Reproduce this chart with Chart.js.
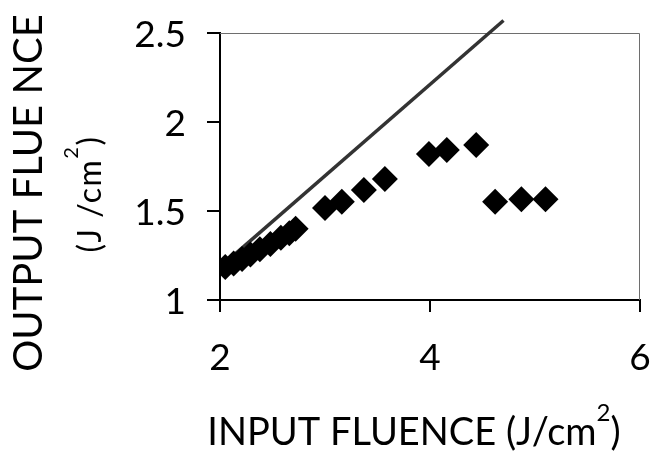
<!DOCTYPE html>
<html lang="en">
<head>
  <meta charset="UTF-8">
  <title>Output vs input fluence</title>
  <style>
    html, body { margin: 0; padding: 0; background: #fff; }
    #chartBox { width: 652px; height: 454px; }
  </style>
</head>
<body>
<div id="chartBox"><canvas id="fluenceChart"></canvas></div>

<script src="https://cdn.jsdelivr.net/npm/chart.js"></script>
<script>
  // measured points (J/cm2)
  const inputFluence  = [2.05, 2.13, 2.21, 2.29, 2.38, 2.48, 2.58, 2.66, 2.72, 3.00, 3.16, 3.37, 3.57, 3.99, 4.16, 4.44, 4.62, 4.87, 5.10];
  const outputFluence = [1.185, 1.205, 1.23, 1.255, 1.285, 1.315, 1.35, 1.375, 1.40, 1.517, 1.552, 1.618, 1.68, 1.82, 1.843, 1.871, 1.552, 1.566, 1.566];

  // linear transmission line
  const lineX = [2.05, 4.70];
  const lineY = [1.21, 2.57];

  const xTicks = [2, 4, 6];
  const yTicks = [1, 1.5, 2, 2.5];

  const FONT = 'Lato, "Open Sans", sans-serif';

  // text with a raised "2", centred on 0
  function drawSupText(ctx, before, sup, after, size, raise, spacing) {
    const supSize = Math.round(size * 0.62);
    ctx.letterSpacing = (spacing || 0) + 'px';
    ctx.font = size + 'px ' + FONT;
    const w1 = ctx.measureText(before).width;
    const w3 = ctx.measureText(after).width;
    ctx.font = supSize + 'px ' + FONT;
    const w2 = ctx.measureText(sup).width;
    let x = -(w1 + w2 + w3) / 2;
    ctx.textAlign = 'left';
    ctx.font = size + 'px ' + FONT;
    ctx.fillText(before, x, 0);
    x += w1;
    ctx.font = supSize + 'px ' + FONT;
    ctx.fillText(sup, x, -size * raise);
    x += w2;
    ctx.font = size + 'px ' + FONT;
    ctx.fillText(after, x, 0);
    ctx.letterSpacing = '0px';
  }

  const frameAndTitles = {
    id: 'frameAndTitles',
    beforeDatasetsDraw(chart) {
      const { ctx, chartArea: a } = chart;
      ctx.save();
      ctx.strokeStyle = '#6e6e6e';
      ctx.lineWidth = 1;
      ctx.beginPath();
      ctx.moveTo(a.left, a.top + 0.5);
      ctx.lineTo(a.right - 0.5, a.top + 0.5);
      ctx.lineTo(a.right - 0.5, a.bottom);
      ctx.stroke();
      ctx.restore();
    },
    afterDraw(chart) {
      const ctx = chart.ctx;
      ctx.save();
      ctx.fillStyle = '#000';
      ctx.textBaseline = 'alphabetic';

      // x title
      ctx.save();
      ctx.translate(414, 445);
      drawSupText(ctx, 'INPUT FLUENCE (J/cm', '2', ')', 38, 0.62, 0);
      ctx.restore();

      // y title, two lines
      ctx.save();
      ctx.translate(42, 193);
      ctx.rotate(-Math.PI / 2);
      ctx.font = '40px ' + FONT;
      ctx.textAlign = 'center';
      ctx.fillText('OUTPUT FLUE NCE', 0, 0);
      ctx.restore();

      ctx.save();
      ctx.translate(101, 194);
      ctx.rotate(-Math.PI / 2);
      drawSupText(ctx, '(J /cm', '2', ')', 32, 0.72, 1.5);
      ctx.restore();

      ctx.restore();
    }
  };

  const ctx = document.getElementById('fluenceChart').getContext('2d');
  new Chart(ctx, {
    type: 'scatter',
    data: {
      datasets: [
        {
          label: 'Output fluence',
          data: inputFluence.map((x, i) => ({ x: x, y: outputFluence[i] })),
          pointStyle: 'rectRot',
          pointRadius: 13,
          pointHoverRadius: 13,
          backgroundColor: '#000',
          borderColor: '#000',
          borderWidth: 0
        },
        {
          label: 'Linear',
          type: 'line',
          data: lineX.map((x, i) => ({ x: x, y: lineY[i] })),
          borderColor: '#333',
          borderWidth: 3.5,
          pointRadius: 0,
          fill: false,
          clip: false
        }
      ]
    },
    options: {
      responsive: true,
      maintainAspectRatio: false,
      animation: false,
      layout: { autoPadding: false, padding: { top: 33, right: 12, left: 0, bottom: 0 } },
      plugins: {
        legend: { display: false },
        tooltip: { enabled: false }
      },
      scales: {
        x: {
          type: 'linear',
          min: 2,
          max: 6,
          afterFit: s => { s.height = 154; s.paddingLeft = 0; s.paddingRight = 0; },
          afterBuildTicks: s => { s.ticks = xTicks.map(v => ({ value: v })); },
          border: { color: '#000', width: 2 },
          grid: { drawOnChartArea: false, color: '#000', lineWidth: 2, tickLength: 12 },
          ticks: { color: '#000', padding: 24, maxRotation: 0, font: { family: FONT, size: 37 }, callback: v => String(v) }
        },
        y: {
          type: 'linear',
          min: 1,
          max: 2.5,
          afterFit: s => { s.width = 220; s.paddingTop = 0; s.paddingBottom = 0; },
          afterBuildTicks: s => { s.ticks = yTicks.map(v => ({ value: v })); },
          border: { color: '#000', width: 2 },
          grid: { drawOnChartArea: false, color: '#000', lineWidth: 2, tickLength: 13 },
          ticks: { color: '#000', padding: 21, labelOffset: 2, font: { family: FONT, size: 37 }, callback: v => String(v) }
        }
      }
    },
    plugins: [frameAndTitles]
  });
</script>
</body>
</html>
